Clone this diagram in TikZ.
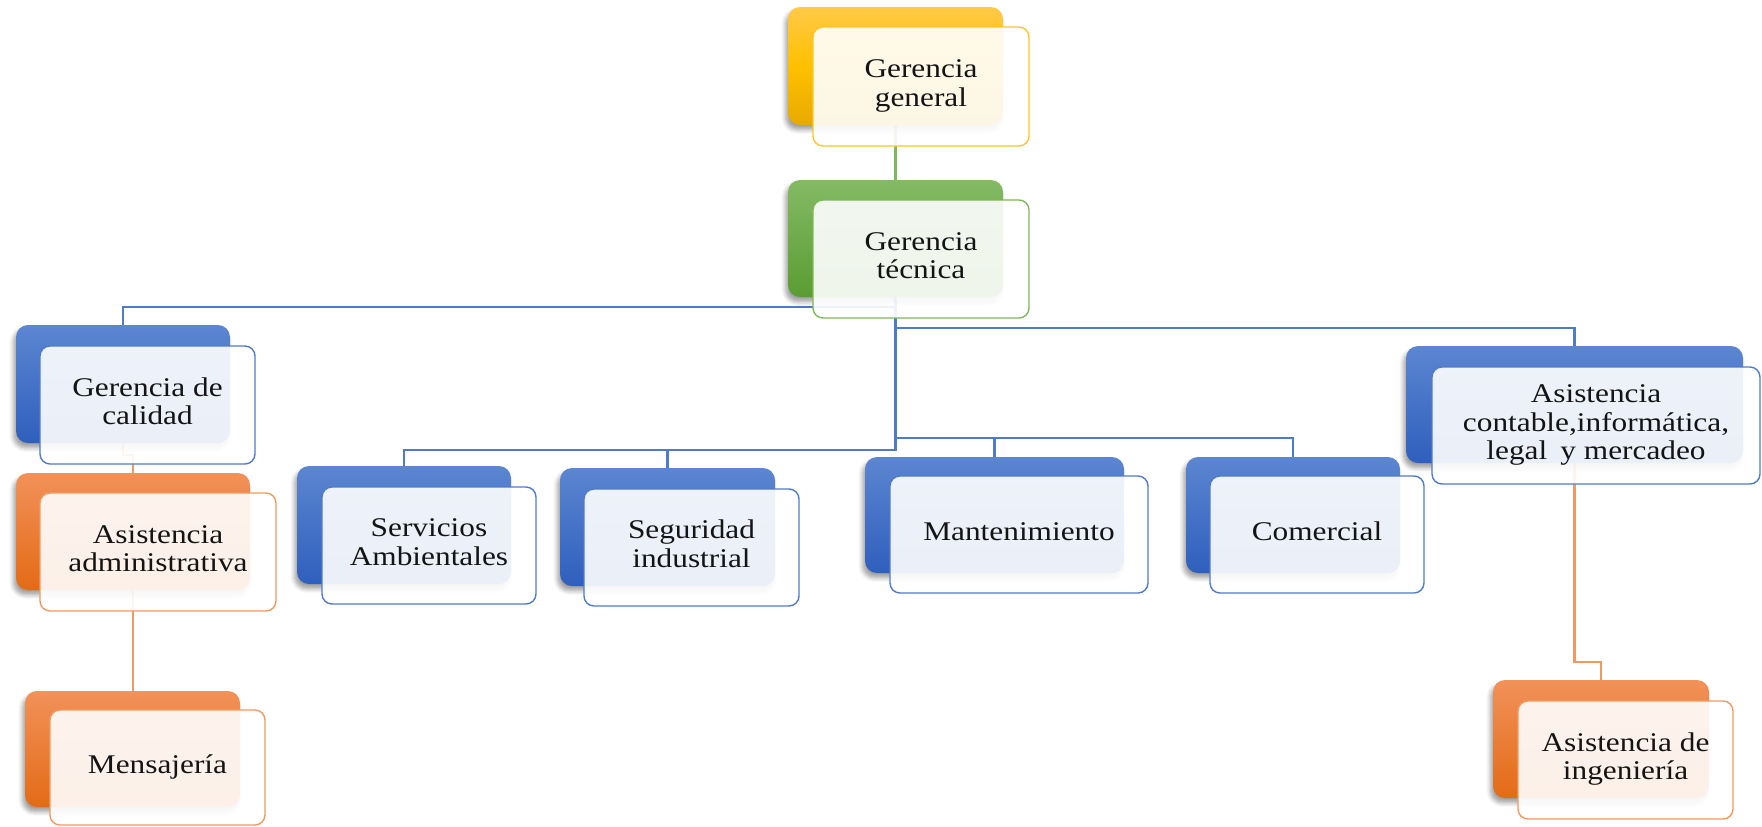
\documentclass[tikz,border=0pt]{standalone}
\usepackage{fontspec}
\setmainfont{Liberation Serif}
\usetikzlibrary{shadows.blur}

% theme colours
\definecolor{yelTop}{HTML}{FFC947}
\definecolor{yelMid}{HTML}{FFC000}
\definecolor{yelBot}{HTML}{E8AA00}
\definecolor{yelLine}{HTML}{FFC42E}
\definecolor{grnTop}{HTML}{84BA65}
\definecolor{grnBot}{HTML}{5A9C32}
\definecolor{grnLine}{HTML}{7DB95A}
\definecolor{bluTop}{HTML}{5C86D1}
\definecolor{bluBot}{HTML}{2F5FBD}
\definecolor{bluLine}{HTML}{4F7BCB}
\definecolor{orgTop}{HTML}{F29159}
\definecolor{orgBot}{HTML}{E36B16}
\definecolor{orgLine}{HTML}{F19A60}

\pgfdeclarelayer{wires}
\pgfsetlayers{wires,main}

\newcommand{\boxtext}[1]{\scalebox{1.16}[1]{\begin{tabular}{@{}c@{}}#1\end{tabular}}}

\tikzset{
  x=0.5pt, y=-0.5pt,
  % a box spanning the corners (x1,y1) and (x2,y2), in pixel units
  span/.style args={#1/#2/#3/#4}{at={({(#1+#3)/2},{(#2+#4)/2})},
    minimum width={(#3-#1)*0.5pt}, minimum height={(#4-#2)*0.5pt}},
  backbox/.style={rounded corners=6pt, inner sep=0pt, outer sep=0pt,
    blur shadow={shadow xshift=-1.2pt, shadow yshift=-2.4pt,
      shadow blur radius=2.2pt, shadow blur steps=6, shadow opacity=38}},
  yellowback/.style={backbox, top color=yelTop, bottom color=yelBot, middle color=yelMid},
  greenback/.style={backbox, top color=grnTop, bottom color=grnBot},
  blueback/.style={backbox, top color=bluTop, bottom color=bluBot},
  orangeback/.style={backbox, top color=orgTop, bottom color=orgBot},
  frontbox/.style={rounded corners=5pt, inner sep=0pt, outer sep=0pt,
    fill=white, fill opacity=0.9, text opacity=1, line width=0.7pt,
    font=\fontsize{13.5pt}{14.2pt}\selectfont, text=black!92},
  wire/.style={line width=1.1pt},
}

\begin{document}
\begin{tikzpicture}
\useasboundingbox (0,0) rectangle (1762,826);

% top of the chart
\node[yellowback, span=788/7/1003/125] (gg-b) {};
\node[frontbox, draw=yelLine, span=813/27/1029/146] (gg) {\boxtext{Gerencia\\general}};

\node[greenback, span=788/180/1003/297] (tec-b) {};
\node[frontbox, draw=grnLine, span=813/200/1029/318] (tec) {\boxtext{Gerencia\\técnica}};

% left column
\node[blueback, span=16/325/230/443] (cal-b) {};
\node[frontbox, draw=bluLine, span=40/346/255/464] (cal) {\boxtext{Gerencia de\\calidad}};

\node[orangeback, span=16/473/250/590] (adm-b) {};
\node[frontbox, draw=orgLine, span=40/493/276/611] (adm) {\boxtext{Asistencia\\administrativa}};

\node[orangeback, span=25/691/240/807] (men-b) {};
\node[frontbox, draw=orgLine, span=50/710/265/825] (men) {\boxtext{Mensajería}};

% middle row
\node[blueback, span=297/466/511/584] (ser-b) {};
\node[frontbox, draw=bluLine, span=322/487/536/604] (ser) {\boxtext{Servicios\\Ambientales}};

\node[blueback, span=560/468/775/586] (seg-b) {};
\node[frontbox, draw=bluLine, span=584/489/799/606] (seg) {\boxtext{Seguridad\\industrial}};

\node[blueback, span=865/457/1124/573] (man-b) {};
\node[frontbox, draw=bluLine, span=890/476/1148/593] (man) {\boxtext{Mantenimiento}};

\node[blueback, span=1186/457/1400/573] (com-b) {};
\node[frontbox, draw=bluLine, span=1210/476/1424/593] (com) {\boxtext{Comercial}};

% right column
\node[blueback, span=1406/346/1743/463] (acl-b) {};
\node[frontbox, draw=bluLine, span=1432/367/1760/484] (acl) {\boxtext{Asistencia\\contable,informática,\\legal\hspace{0.17em} y mercadeo}};

\node[orangeback, span=1493/680/1709/798] (ing-b) {};
\node[frontbox, draw=orgLine, span=1518/701/1733/819] (ing) {\boxtext{Asistencia de\\ingeniería}};

% connectors, behind the boxes
\begin{pgfonlayer}{wires}
  \draw[wire, grnLine] (gg-b.south) -- (tec-b.north);
  \draw[wire, bluLine] (tec-b.south) -- ++(0,10) -| (cal-b.north);
  \draw[wire, bluLine] (tec-b.south) -- ++(0,31) -| (acl-b.north);
  \draw[wire, bluLine] (tec-b.south) -- ++(0,141) -| (man-b.north);
  \draw[wire, bluLine] (tec-b.south) -- ++(0,141) -| (com-b.north);
  \draw[wire, bluLine] (tec-b.south) -- ++(0,153) -| (ser-b.north);
  \draw[wire, bluLine] (tec-b.south) -- ++(0,153) -| (seg-b.north);
  \draw[wire, orgLine] (cal-b.south) -- ++(0,12) -| (adm-b.north);
  \draw[wire, orgLine] (adm-b.south) -- (adm-b.south |- men-b.north);
  \draw[wire, orgLine] (acl-b.south) -- ++(0,199) -| (ing-b.north);
\end{pgfonlayer}
\end{tikzpicture}
\end{document}
